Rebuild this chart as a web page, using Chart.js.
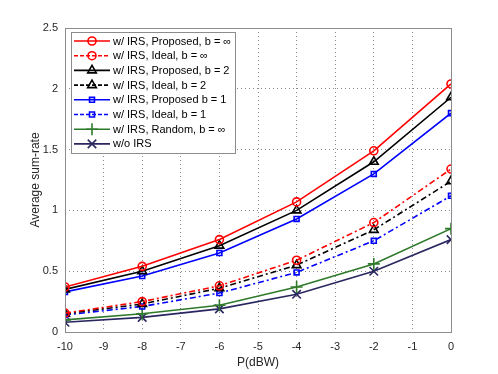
<!DOCTYPE html>
<html>
<head>
<meta charset="utf-8">
<script src="https://cdn.jsdelivr.net/npm/chart.js@4.4.1/dist/chart.umd.min.js"></script>
<style>
  html, body { margin: 0; padding: 0; background: #fff; }
  canvas { display: block; }
</style>
</head>
<body>
<canvas id="chart" width="498" height="374"></canvas>
<script>
// power levels (dBW)
const powerDbw = [-10, -8, -6, -4, -2, 0];
const xTicks = [-10, -9, -8, -7, -6, -5, -4, -3, -2, -1, 0];

// average sum-rate per scheme
const propInf   = [0.37, 0.54, 0.76, 1.07, 1.49, 2.04];
const idealInf  = [0.155, 0.25, 0.38, 0.59, 0.90, 1.34];
const prop2     = [0.35, 0.50, 0.71, 1.00, 1.40, 1.93];
const ideal2    = [0.15, 0.23, 0.36, 0.55, 0.84, 1.24];
const prop1     = [0.33, 0.46, 0.65, 0.93, 1.30, 1.80];
const ideal1    = [0.14, 0.21, 0.32, 0.49, 0.75, 1.12];
const randomInf = [0.10, 0.15, 0.22, 0.37, 0.56, 0.85];
const noIrs     = [0.08, 0.12, 0.19, 0.31, 0.50, 0.76];

const labels = [
  'w/ IRS, Proposed, b = \u221e',
  'w/ IRS, Ideal, b = \u221e',
  'w/ IRS, Proposed, b = 2',
  'w/ IRS, Ideal, b = 2',
  'w/ IRS, Proposed b = 1',
  'w/ IRS, Ideal, b = 1',
  'w/ IRS, Random, b = \u221e',
  'w/o IRS'
];

const GREEN = '#2f7a2a';
const NAVY = '#2a2760';
const DASHDOT = [6, 3, 2, 3];
const FONT = '"Liberation Sans", Arial, sans-serif';

const pts = ys => ys.map((y, i) => ({ x: powerDbw[i], y }));

function series(label, ys, color, marker, radius, dashed) {
  return {
    label, data: pts(ys),
    borderColor: color, backgroundColor: 'rgba(0,0,0,0)',
    borderWidth: 1.6, borderDash: dashed ? DASHDOT : [],
    pointStyle: marker, pointRadius: radius, pointBorderWidth: 1.6,
    pointBorderColor: color, pointBackgroundColor: 'rgba(0,0,0,0)',
    tension: 0, fill: false
  };
}

const datasets = [
  series(labels[0], propInf, '#ff0000', 'circle', 4, false),
  series(labels[1], idealInf, '#ff0000', 'circle', 4, true),
  series(labels[2], prop2, '#000000', 'triangle', 5, false),
  series(labels[3], ideal2, '#000000', 'triangle', 5, true),
  series(labels[4], prop1, '#0000ff', 'rect', 3.5, false),
  series(labels[5], ideal1, '#0000ff', 'rect', 3.5, true),
  series(labels[6], randomInf, GREEN, 'cross', 6, false),
  series(labels[7], noIrs, NAVY, 'crossRot', 6, false)
];

// MATLAB-style box and legend
const boxLegend = {
  id: 'boxLegend',
  afterDatasetsDraw(chart) {
    const { ctx, chartArea: a } = chart;
    ctx.save();
    ctx.strokeStyle = '#8c8c8c';
    ctx.lineWidth = 1;
    ctx.setLineDash([]);
    ctx.strokeRect(a.left + 0.5, a.top + 0.5, a.right - a.left, a.bottom - a.top);

    const lx = 71, ly = 32, lw = 164, lh = 121, row = 14.7;
    ctx.fillStyle = '#fff';
    ctx.fillRect(lx, ly, lw, lh);
    ctx.strokeRect(lx + 0.5, ly + 0.5, lw, lh);
    ctx.font = '11px ' + FONT;
    ctx.textBaseline = 'middle';
    chart.data.datasets.forEach((ds, i) => {
      const y = ly + 9 + i * row;
      ctx.strokeStyle = ds.borderColor;
      ctx.lineWidth = ds.borderWidth;
      ctx.setLineDash(ds.borderDash.length ? [4, 2] : []);
      ctx.beginPath();
      ctx.moveTo(lx + 3, y);
      ctx.lineTo(lx + 39, y);
      ctx.stroke();
      ctx.setLineDash([]);
      ctx.fillStyle = 'rgba(0,0,0,0)';
      Chart.helpers.drawPoint(ctx, {
        pointStyle: ds.pointStyle, radius: ds.pointRadius, borderWidth: ds.pointBorderWidth, rotation: 0
      }, lx + 21, y);
      ctx.fillStyle = '#000';
      ctx.fillText(ds.label, lx + 42, y + 0.5);
    });
    ctx.restore();
  }
};

new Chart(document.getElementById('chart'), {
  type: 'line',
  data: { datasets },
  options: {
    responsive: false,
    animation: false,
    layout: { padding: { top: 28, right: 47, left: 24, bottom: 0 } },
    plugins: { legend: { display: false }, tooltip: { enabled: false } },
    scales: {
      x: {
        type: 'linear', min: -10, max: 0,
        afterBuildTicks: s => { s.ticks = xTicks.map(v => ({ value: v })); },
        afterFit: s => { s.height = 42; },
        grid: { color: '#8a8a8a', drawTicks: false },
        border: { display: false, dash: [1, 3] },
        ticks: { color: '#262626', font: { size: 11, family: FONT }, padding: 8, maxRotation: 0 },
        title: { display: true, text: 'P(dBW)', color: '#262626', font: { size: 12, family: FONT }, padding: { top: 5 } }
      },
      y: {
        min: 0, max: 2.5,
        ticks: {
          stepSize: 0.5, color: '#262626', font: { size: 11, family: FONT }, padding: 7,
          callback: v => String(Math.round(v * 10) / 10)
        },
        afterFit: s => { s.width = 41; },
        grid: { color: '#8a8a8a', drawTicks: false },
        border: { display: false, dash: [1, 3] },
        title: { display: true, text: 'Average sum-rate', color: '#262626', font: { size: 12, family: FONT }, padding: { bottom: 4 } }
      }
    }
  },
  plugins: [boxLegend]
});
</script>
</body>
</html>
